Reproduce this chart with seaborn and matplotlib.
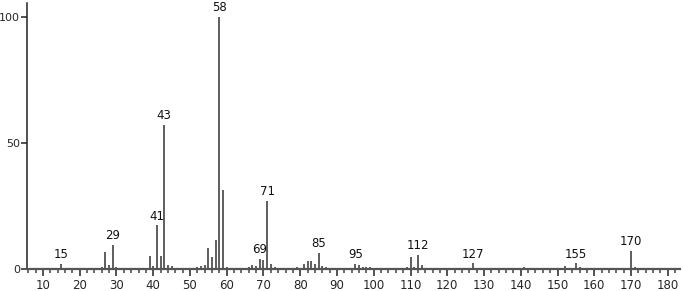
import matplotlib
matplotlib.use("Agg")
import matplotlib.pyplot as plt
import seaborn as sns
import numpy as np

mz = [15, 26, 27, 28, 29, 30, 31, 39, 40, 41, 42, 43, 44, 45, 50, 51, 52, 53, 54,
      55, 56, 57, 58, 59, 60, 65, 66, 67, 68, 69, 70, 71, 72, 73, 77, 79,
      81, 82, 83, 84, 85, 86, 87, 91, 95, 96, 97, 98, 99, 109, 110, 111, 112, 113,
      123, 127, 135, 136, 141, 152, 155, 156, 170, 171]
intensity = [1.9, 0.6, 6.8, 1.5, 9.7, 0.9, 0.5, 5.0, 1.0, 17.3, 5.0, 57.2, 1.5, 1.2, 0.5, 0.5, 0.6, 1.2, 1.5,
             8.4, 4.8, 11.4, 100.0, 31.3, 0.8, 0.5, 0.6, 1.7, 1.2, 4.0, 3.5, 27.1, 2.1, 0.6, 0.5, 0.6,
             2.1, 3.2, 3.2, 1.9, 6.5, 1.0, 0.8, 0.5, 2.1, 1.7, 0.8, 0.8, 0.6, 0.6, 4.6, 0.8, 5.6, 1.5,
             0.5, 2.2, 0.5, 0.5, 0.6, 1.2, 2.2, 0.6, 7.1, 0.9]
labeled = [15, 29, 41, 43, 58, 69, 71, 85, 95, 112, 127, 155, 170]
x_major = list(range(10, 181, 10))
y_ticks = [0, 50, 100]

sns.set_style("ticks")
plt.rcParams['font.family'] = ['DejaVu Sans']

fig = plt.figure(figsize=(6.83, 2.91), dpi=100)
ax = fig.add_axes([0.0395, 0.0756, 0.956, 0.914])

ax.vlines(mz, 0, intensity, color="#333333", linewidth=1.1)

lookup = dict(zip(mz, intensity))
for m in labeled:
    ax.annotate(str(m), (m, lookup[m]), xytext=(0, 2), textcoords="offset points",
                ha="center", va="bottom", fontsize=8.5, color="#111111")

ax.set_xlim(5.65, 183.3)
ax.set_ylim(0, 105.5)
ax.set_xticks(x_major)
ax.set_xticks(np.arange(6, 183, 2), minor=True)
ax.set_yticks(y_ticks)
ax.tick_params(axis="x", which="major", length=5, width=1.3, color="#444444", labelsize=8.5, pad=2)
ax.tick_params(axis="x", which="minor", length=3, width=1.1, color="#444444")
ax.tick_params(axis="y", which="major", length=4.5, width=1.2, color="#333333", labelsize=8, pad=0.5)
for side in ["top", "right"]:
    ax.spines[side].set_visible(False)
ax.spines["left"].set_color("#222222")
ax.spines["left"].set_linewidth(1.1)
ax.spines["bottom"].set_color("#555555")
ax.spines["bottom"].set_linewidth(1.6)
ax.set_facecolor("white")
fig.patch.set_facecolor("white")

fig.savefig("out.png", dpi=100)
